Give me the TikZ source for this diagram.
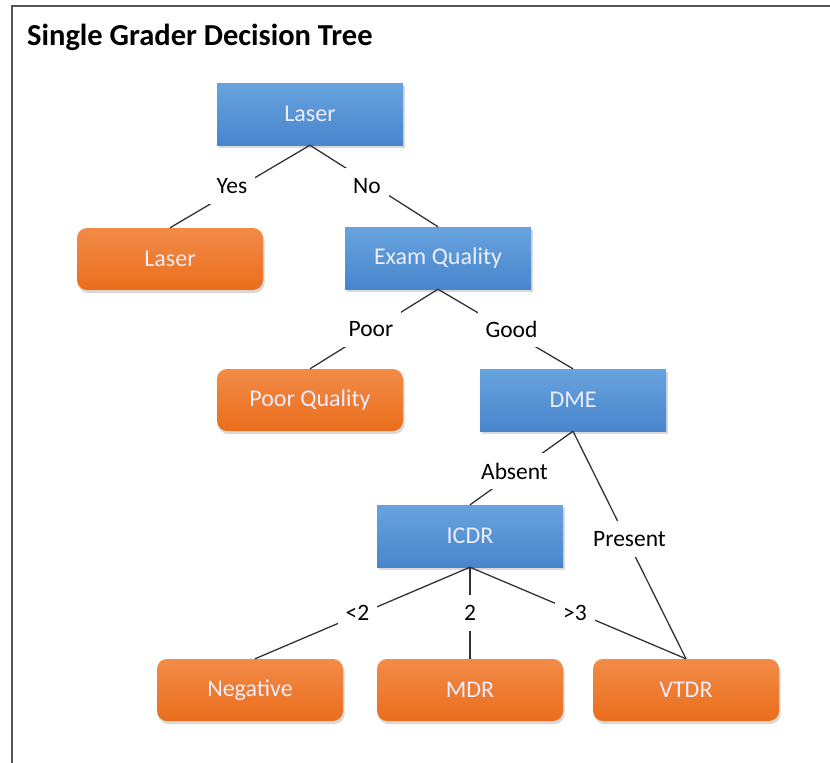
\documentclass[tikz,border=0pt]{standalone}
\usepackage{fontspec}
\setmainfont{Carlito}
\usetikzlibrary{shadows}
\definecolor{qblueTop}{RGB}{104,163,222}
\definecolor{qblueBot}{RGB}{72,134,204}
\definecolor{leafTop}{RGB}{242,139,72}
\definecolor{leafBot}{RGB}{234,110,28}
\definecolor{frameGray}{RGB}{85,85,85}
\begin{document}
\begin{tikzpicture}[x=1pt, y=-1pt,
  box/.style={rectangle, minimum width=186pt, minimum height=62pt, text=white!93!blue,
    font=\fontsize{24}{28}\selectfont,
    drop shadow={shadow xshift=1.5pt, shadow yshift=-3pt, opacity=0.3}},
  decision/.style={box, top color=qblueTop, bottom color=qblueBot},
  outcome/.style={box, rounded corners=10pt, top color=leafTop, bottom color=leafBot},
  answer/.style={midway, fill=white, inner xsep=8pt, inner ysep=10pt, font=\fontsize{23.5}{27}\selectfont},
  branch/.style={draw=black!80, line width=1.3pt}]
  \useasboundingbox (0,0) rectangle (830,763);
  % frame and title
  \draw[frameGray, line width=2pt] (12,763) -- (12,6) -- (830,6);
  \node[anchor=base west, inner sep=0pt, font=\fontsize{30.5}{36}\selectfont\bfseries] (title) at (27,45) {Single Grader Decision Tree};

  % questions
  \node[decision] (laserQ) at (310,114) {Laser};
  \node[decision] (exam)   at (438,258) {Exam Quality};
  \node[decision] (dme)    at (573,400) {DME};
  \node[decision] (icdr)   at (470,536) {ICDR};

  % outcomes
  \node[outcome] (laserOut) at (170,259) {Laser};
  \node[outcome] (poor)     at (310,400) {Poor Quality};
  \node[outcome] (neg)      at (250,690) {Negative};
  \node[outcome] (mdr)      at (470,690) {MDR};
  \node[outcome] (vtdr)     at (686,690) {VTDR};

  % branches (labels nudged a little off the line, as in the original)
  \draw[branch] (laserQ.south) -- node[answer, xshift=-8pt] {Yes} (laserOut.north);
  \draw[branch] (laserQ.south) -- node[answer, xshift=-7pt] {No} (exam.north);
  \draw[branch] (exam.south) -- node[answer, xshift=-3pt] {Poor} (poor.north);
  \draw[branch] (exam.south) -- node[answer, xshift=6pt] {Good} (dme.north);
  \draw[branch] (dme.south) -- node[answer, xshift=-7pt, yshift=-3pt] {Absent} (icdr.north);
  \draw[branch] (dme.south) -- node[answer, yshift=6pt] {Present} (vtdr.north);
  \draw[branch] (icdr.south) -- node[answer, xshift=-5pt] {<2} ([xshift=5pt]neg.north);
  \draw[branch] (icdr.south) -- node[answer] {2} (mdr.north);
  \draw[branch] (icdr.south) -- node[answer, xshift=-3pt] {>3} (vtdr.north);
\end{tikzpicture}
\end{document}
